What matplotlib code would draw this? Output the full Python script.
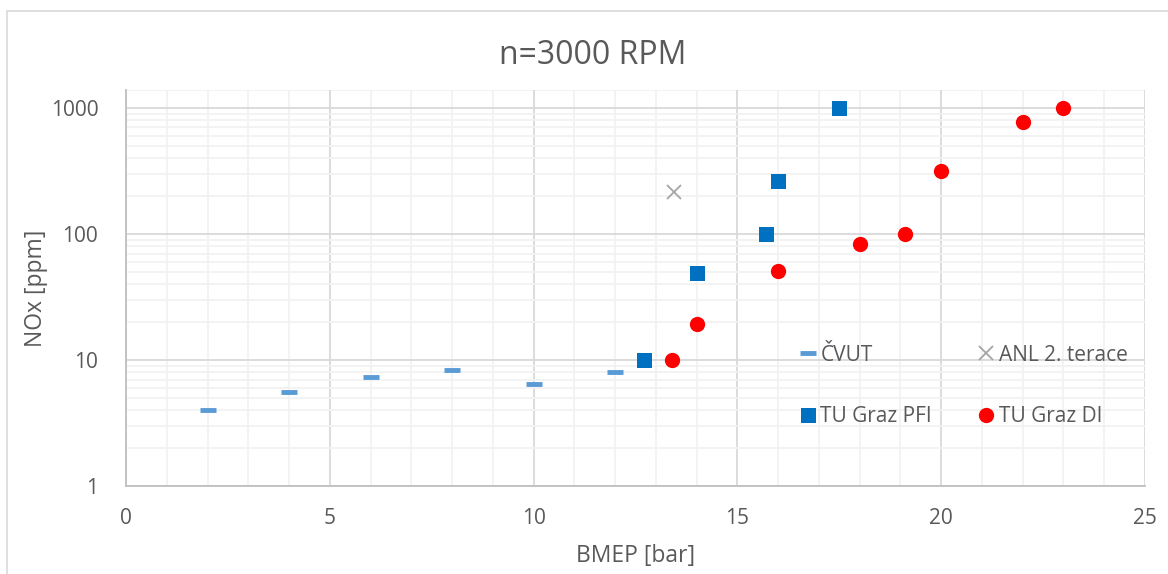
import matplotlib.pyplot as plt
from matplotlib.patches import Rectangle
from matplotlib.ticker import LogLocator, FixedLocator, NullFormatter

plt.rcParams['font.family'] = ['Open Sans', 'DejaVu Sans']

# data
cvut_x = [2, 4, 6, 8, 10, 12]
cvut_y = [4.0, 5.6, 7.3, 8.3, 6.5, 8.0]

anl_x = [13.45]
anl_y = [217]

pfi_x = [12.7, 14.0, 15.7, 16.0, 17.5]
pfi_y = [10, 49, 100, 262, 1000]

di_x = [13.4, 14.0, 16.0, 18.0, 19.1, 20.0, 22.0, 23.0]
di_y = [10, 19.4, 51, 83, 100, 316, 780, 1000]

txt = '#595959'
W, H = 1168, 574

fig = plt.figure(figsize=(W / 100, H / 100), dpi=100)
ax = fig.add_axes([126 / W, 1 - 486 / H, (1145 - 126) / W, (486 - 90) / H])

# outer chart border (cropped on the right and bottom)
fig.patches.append(Rectangle((7 / W, -0.1), 1.2, 1 - 11 / H + 0.1, transform=fig.transFigure,
                             fill=False, edgecolor='#d9d9d9', linewidth=1.2, zorder=0))

ax.set_yscale('log')
ax.set_xlim(0, 25)
ax.set_ylim(1, 1389)

ax.xaxis.set_major_locator(FixedLocator([0, 5, 10, 15, 20, 25]))
ax.xaxis.set_minor_locator(FixedLocator(range(0, 26)))
ax.yaxis.set_major_locator(FixedLocator([1, 10, 100, 1000]))
ax.yaxis.set_minor_locator(LogLocator(base=10, subs=range(2, 10)))
ax.yaxis.set_minor_formatter(NullFormatter())
ax.set_yticklabels(['1', '10', '100', '1000'])
ax.set_xticklabels(['0', '5', '10', '15', '20', '25'])

ax.grid(which='minor', color='#f2f2f2', linewidth=1.3, zorder=0)
ax.grid(which='major', color='#d9d9d9', linewidth=1.3, zorder=0)
ax.set_axisbelow(True)

for s in ['top', 'right']:
    ax.spines[s].set_visible(False)
for s in ['left', 'bottom']:
    ax.spines[s].set_color('#bfbfbf')
    ax.spines[s].set_linewidth(1.3)
ax.axhline(1389, color='#f2f2f2', linewidth=1.3, zorder=0)

ax.tick_params(which='both', length=0, labelsize=15, labelcolor=txt)
ax.tick_params(axis='x', pad=16)
ax.tick_params(axis='y', pad=20)

h1, = ax.plot(cvut_x, cvut_y, linestyle='None', marker='_', markersize=11, markeredgewidth=3.5,
              color='#5b9bd5', label='ČVUT', zorder=3)
h2, = ax.plot(anl_x, anl_y, linestyle='None', marker='x', markersize=10, markeredgewidth=1.3,
              color='#a5a5a5', label='ANL 2. terace', zorder=3)
h3, = ax.plot(pfi_x, pfi_y, linestyle='None', marker='s', markersize=10.8, markeredgewidth=0,
              color='#0070c0', label='TU Graz PFI', zorder=3)
h4, = ax.plot(di_x, di_y, linestyle='None', marker='o', markersize=11, markeredgewidth=0,
              color='#ff0000', label='TU Graz DI', zorder=3)

# legend fills by column, so order handles to get ČVUT/ANL on the first row
ax.legend([h1, h3, h2, h4], ['ČVUT', 'TU Graz PFI', 'ANL 2. terace', 'TU Graz DI'],
          loc='upper left', bbox_to_anchor=(0.661, 0.357), ncol=2, frameon=False,
          fontsize=15, labelcolor=txt, handlelength=0.8, handletextpad=0.2,
          columnspacing=2.2, labelspacing=1.95, borderpad=0, borderaxespad=0)

fig.text(593 / W, 1 - 56 / H, 'n=3000 RPM', fontsize=23, color=txt, ha='center', va='center')
ax.set_xlabel('BMEP [bar]', fontsize=16.5, color=txt, labelpad=11)
ax.set_ylabel('NOx [ppm]', fontsize=16.5, color=txt, labelpad=2)

fig.savefig('out.png', dpi=100)
